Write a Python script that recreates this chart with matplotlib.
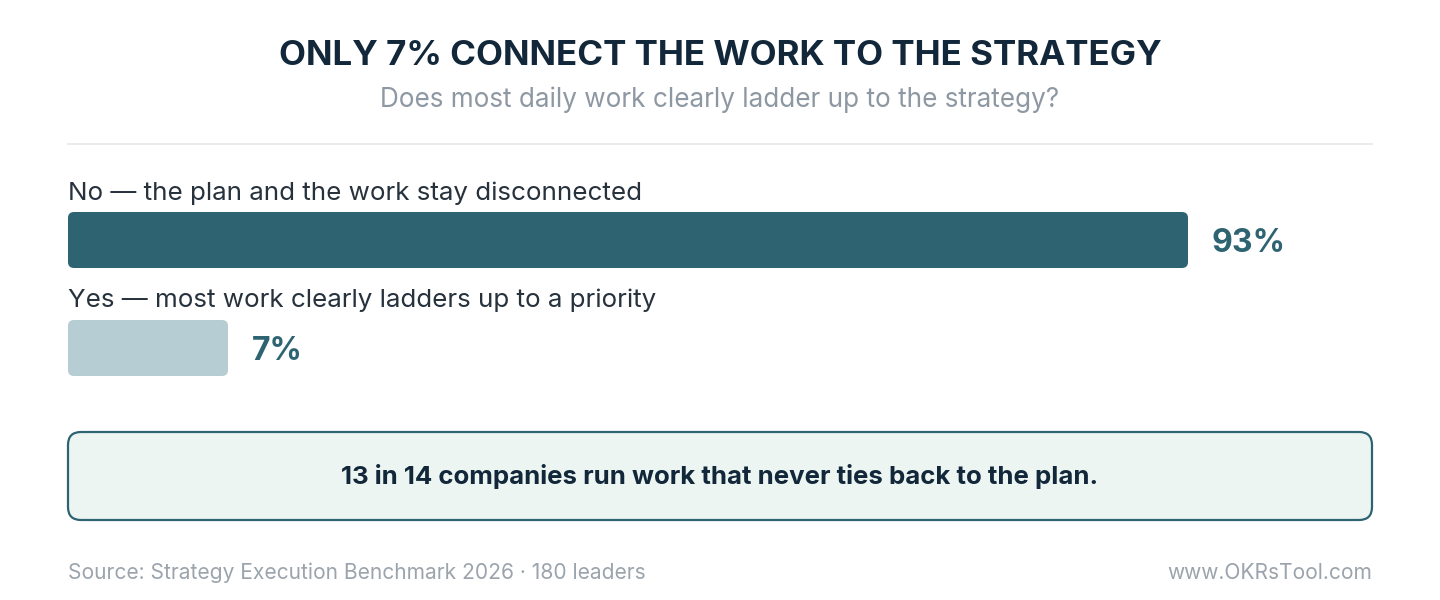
import matplotlib
matplotlib.use("Agg")
import matplotlib.pyplot as plt
from matplotlib.patches import FancyBboxPatch
from matplotlib.transforms import offset_copy

plt.rcParams['font.family'] = ['Inter', 'DejaVu Sans']

# data
categorias = ["No — the plan and the work stay disconnected",
              "Yes — most work clearly ladders up to a priority"]
valores = [93, 7]
rotulos = ["93%", "7%"]
cores = ["#2e6472", "#b6cdd4"]

titulo = "ONLY 7% CONNECT THE WORK TO THE STRATEGY"
subtitulo = "Does most daily work clearly ladder up to the strategy?"
destaque = "13 in 14 companies run work that never ties back to the plan."
fonte = "Source: Strategy Execution Benchmark 2026 · 180 leaders"
site = "www.OKRsTool.com"

W, H = 1440, 600
fig = plt.figure(figsize=(W / 100, H / 100), dpi=100)
fig.patch.set_facecolor("white")

# eixo de layout em pixels
ax = fig.add_axes([0, 0, 1, 1])
ax.set_xlim(0, W)
ax.set_ylim(H, 0)
ax.axis("off")

# eixo das barras: 0..100, 93 ocupa 1120 px
esq = 68
larg_total = 1120 * 100 / 93
axb = fig.add_axes([esq / W, 0, larg_total / W, 1])
axb.set_xlim(0, 100)
axb.set_ylim(H, 0)
axb.axis("off")
axb.patch.set_alpha(0)

px_por_unid = larg_total / 100
min_larg = 160 / px_por_unid

# titulo
ax.text(W / 2, 65, titulo, ha="center", va="baseline", fontsize=25.2,
        fontweight="bold", color="#12283a")
ax.text(W / 2, 107, subtitulo, ha="center", va="baseline", fontsize=18.8,
        color="#8e98a2")
ax.plot([68, 1372], [143.5, 143.5], color="#e3e7ea", lw=1.2)

# barras
topo = [212, 320]
alt = 56
label_base = [200, 306.5]
for i, (cat, v, rot, c) in enumerate(zip(categorias, valores, rotulos, cores)):
    ax.text(68, label_base[i], cat, ha="left", va="baseline", fontsize=18.7,
            color="#27323d")
    w = max(v, min_larg)
    r = 6 / px_por_unid
    barra = FancyBboxPatch((0, topo[i]), w, alt,
                           boxstyle=f"round,pad=0,rounding_size={r}",
                           mutation_aspect=px_por_unid,
                           fc=c, ec="none")
    axb.add_patch(barra)
    tr = offset_copy(axb.transData, fig=fig, x=24, y=0, units="dots")
    axb.text(w, topo[i] + alt / 2 + 12, rot, transform=tr, ha="left",
             va="baseline", fontsize=23, fontweight="bold", color="#2e6472")

# caixa de destaque
caixa = FancyBboxPatch((68, 432), 1304, 88,
                       boxstyle="round,pad=0,rounding_size=13",
                       fc="#edf5f2", ec="#2e6472", lw=1.6)
ax.add_patch(caixa)
ax.text(W / 2, 484, destaque, ha="center", va="baseline", fontsize=18.6,
        fontweight="bold", color="#12283a")

# rodape
ax.text(68, 579, fonte, ha="left", va="baseline", fontsize=15.1,
        color="#9ba4ac")
ax.text(1372, 579, site, ha="right", va="baseline", fontsize=15.1,
        color="#9ba4ac")

fig.savefig("out.png", dpi=100, facecolor="white")
